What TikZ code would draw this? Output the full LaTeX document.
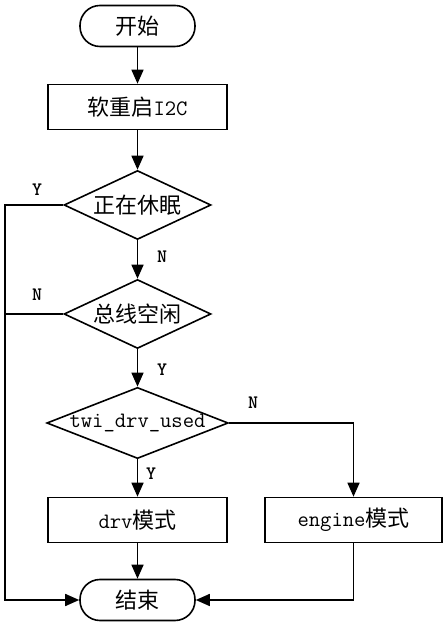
\documentclass[tikz,border=0pt]{standalone}
\usepackage{fontspec}
\newfontfamily\cjk{Noto Sans CJK SC}
\usetikzlibrary{arrows.meta,shapes.geometric,calc}

\begin{document}
\begin{tikzpicture}[x=1pt,y=1pt,>={Triangle[length=14pt,width=12pt]},
    every node/.style={font=\ttfamily\fontsize{22}{26}\selectfont},
    term/.style={draw, line width=1.6pt, rounded corners=20pt, minimum width=115pt, minimum height=41pt},
    proc/.style={draw, line width=1.6pt, minimum width=179pt, minimum height=45pt},
    cond/.style={draw, diamond, line width=1.6pt, aspect=2.4, inner sep=0pt, minimum width=147pt, minimum height=69pt},
    flow/.style={->, line width=1.6pt},
    tag/.style={font=\ttfamily\bfseries\fontsize{19}{22}\selectfont}]
  \useasboundingbox (0,0) rectangle (444,628);
  \node[term] (start) at (137.5,602) {\cjk 开始};
  \node[proc] (reboot) at (137.5,521) {{\cjk 软重启}I2C};
  \node[cond] (sleep) at (137.5,423) {\cjk 正在休眠};
  \node[cond] (idle) at (137.5,314) {\cjk 总线空闲};
  \node[cond, aspect=2.55, minimum width=178pt, minimum height=70pt] (used) at (137.5,205) {twi\_drv\_used};
  \node[proc] (drv) at (137.5,108) {drv{\cjk 模式}};
  \node[proc, minimum width=177pt] (engine) at (353.5,108) {engine{\cjk 模式}};
  \node[term] (stop) at (137.5,28) {\cjk 结束};
  \coordinate (lft) at (5,0);
  % main column
  \draw[flow] (start) -- (reboot);
  \draw[flow] (reboot) -- (sleep);
  \draw[flow] (sleep) -- (idle);
  \draw[flow] (idle) -- (used);
  \draw[flow] (used) -- (drv);
  \draw[flow] (drv) -- (stop);
  % side branches
  \draw[flow] (sleep.west) -- (sleep.west -| lft) |- (stop.west);
  \draw[line width=1.6pt] (idle.west) -- (idle.west -| lft);
  \draw[flow] (used.east) -| (engine.north);
  \draw[flow] (engine.south) |- (stop.east);
  % branch labels
  \node[tag] (ys) at (37,438) {Y};
  \node[tag] (ns) at (162,371) {N};
  \node[tag] (ni) at (37,333) {N};
  \node[tag] (yi) at (162,258) {Y};
  \node[tag] (yu) at (151,154) {Y};
  \node[tag] (nu) at (253,225) {N};
\end{tikzpicture}
\end{document}
